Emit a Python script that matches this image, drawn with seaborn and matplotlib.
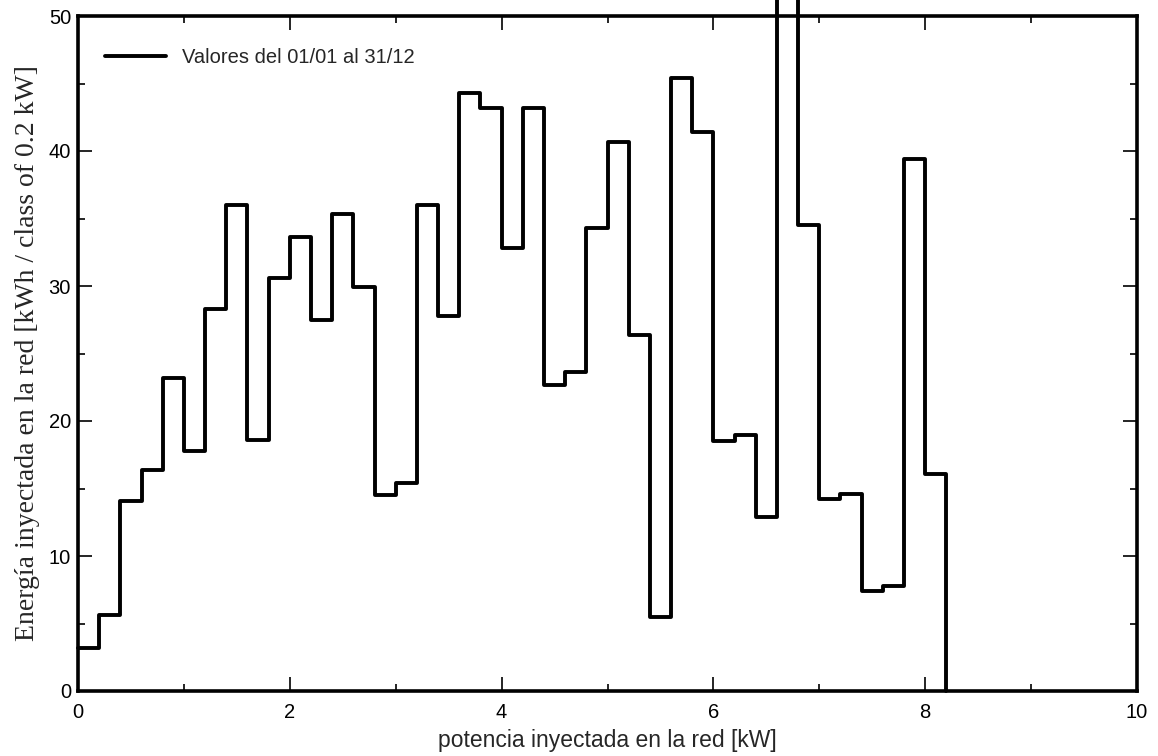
import seaborn as sns
import numpy as np
import matplotlib.pyplot as plt
import pandas as pd
from matplotlib.ticker import MultipleLocator

# left edge of each 0.2 kW class
potencia = [0.0, 0.2, 0.4, 0.6, 0.8, 1.0, 1.2, 1.4, 1.6, 1.8,
            2.0, 2.2, 2.4, 2.6, 2.8, 3.0, 3.2, 3.4, 3.6, 3.8,
            4.0, 4.2, 4.4, 4.6, 4.8, 5.0, 5.2, 5.4, 5.6, 5.8,
            6.0, 6.2, 6.4, 6.6, 6.8, 7.0, 7.2, 7.4, 7.6, 7.8,
            8.0, 8.2]
# energy per class (last value closes the step back to 0)
energia = [3.2, 5.6, 14.1, 16.4, 23.2, 17.8, 28.3, 36.0, 18.6, 30.6,
           33.6, 27.5, 35.3, 29.9, 14.5, 15.4, 36.0, 27.8, 44.3, 43.2,
           32.8, 43.2, 22.7, 23.6, 34.3, 40.7, 26.4, 5.5, 45.4, 41.4,
           18.5, 19.0, 12.9, 62.0, 34.5, 14.2, 14.6, 7.4, 7.8, 39.4,
           16.1, 0.0]

df = pd.DataFrame({"potencia": potencia, "energia": energia})

sns.set_style("white")
plt.rcParams['font.family'] = ['Liberation Sans', 'DejaVu Sans']

fig = plt.figure(figsize=(11.58, 7.56), dpi=100)
ax = fig.add_axes([78 / 1158, 1 - 691 / 756, (1137 - 78) / 1158, (691 - 16) / 756])

sns.lineplot(data=df, x="potencia", y="energia", ax=ax, drawstyle="steps-post",
             color="black", linewidth=2.8, label="Valores del 01/01 al 31/12",
             clip_on=False)

ax.set_xlim(0, 10)
ax.set_ylim(0, 50)
ax.xaxis.set_major_locator(MultipleLocator(2))
ax.xaxis.set_minor_locator(MultipleLocator(1))
ax.yaxis.set_major_locator(MultipleLocator(10))
ax.yaxis.set_minor_locator(MultipleLocator(5))
ax.tick_params(which="both", direction="in", top=True, right=True,
               bottom=True, left=True, width=1.2, colors="black", labelsize=14.5)
ax.tick_params(which="major", length=10)
ax.tick_params(which="minor", length=5)
ax.tick_params(axis="x", pad=9)
ax.tick_params(axis="y", pad=5)
for s in ax.spines.values():
    s.set_linewidth(2.6)
    s.set_color("black")

ax.set_xlabel("potencia inyectada en la red [kW]", fontsize=16.5, labelpad=5)
ax.set_ylabel("Energía inyectada en la red [kWh / class of 0.2 kW]", fontsize=20,
              family=["Liberation Serif", "DejaVu Serif"], labelpad=6)

leg = ax.legend(loc="upper left", frameon=False, fontsize=14.5, handlelength=3,
                borderaxespad=0, bbox_to_anchor=(0.018, 0.965))

plt.savefig("out.png", dpi=100)
